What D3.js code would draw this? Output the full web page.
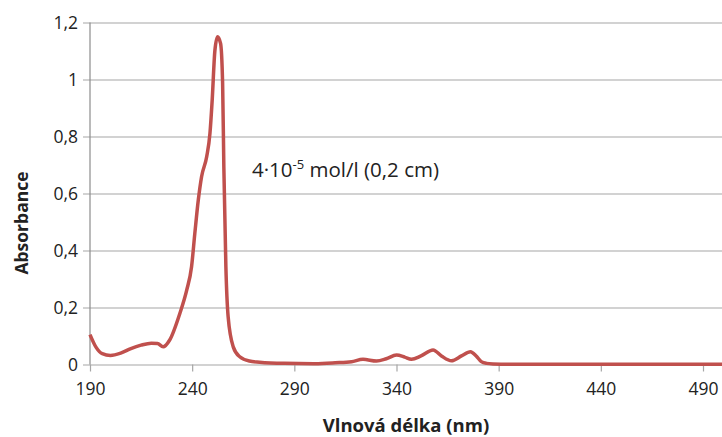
<!DOCTYPE html>
<html>
<head>
<meta charset="utf-8">
<script src="https://cdn.jsdelivr.net/npm/d3@7"></script>
<style>
  html, body { margin: 0; padding: 0; background: #fff; }
  svg { display: block; }
  text { font-family: "Open Sans", "Liberation Sans", sans-serif; fill: #222; }
</style>
</head>
<body>
<svg id="chart" width="722" height="437"></svg>
<script>
// UV absorption spectrum
const wavelengths = [190, 193, 196, 200, 205, 210, 215, 220, 223, 225.8, 229, 234, 237.3, 239.7, 241.3, 243, 244.6, 247.1, 248.7, 249.8, 251.1, 252.4, 253.9, 254.9, 255.5, 256.5, 257.6, 260.1, 263.3, 268, 273, 285, 300, 310, 318, 323.6, 330.2, 335, 340, 344, 347.3, 352, 357.9, 362, 366.9, 371.8, 376.2, 379, 381.5, 384, 387.2, 395, 420, 460, 500];
const absorbance  = [0.105, 0.06, 0.038, 0.032, 0.04, 0.056, 0.068, 0.075, 0.074, 0.062, 0.086, 0.18, 0.26, 0.343, 0.46, 0.577, 0.659, 0.729, 0.811, 0.928, 1.10, 1.150, 1.127, 0.987, 0.694, 0.343, 0.168, 0.062, 0.027, 0.012, 0.008, 0.004, 0.003, 0.006, 0.01, 0.018, 0.012, 0.02, 0.033, 0.026, 0.018, 0.03, 0.051, 0.03, 0.013, 0.03, 0.045, 0.03, 0.01, 0.004, 0.002, 0.001, 0.001, 0.001, 0.001];
const xTicks = [190, 240, 290, 340, 390, 440, 490];
const yTicks = [0, 0.2, 0.4, 0.6, 0.8, 1, 1.2];

const svg = d3.select("#chart");
const plotLeft = 90, plotTop = 22.5, plotBottom = 364.5, plotRight = 722;

const x = d3.scaleLinear().domain([190, 490]).range([plotLeft, 703]);
const y = d3.scaleLinear().domain([0, 1.2]).range([plotBottom, plotTop]);

const fmt = d => String(+d.toFixed(1)).replace(".", ",");

// horizontal gridlines with outside ticks on the value axis
const gy = svg.append("g").attr("transform", `translate(${plotLeft},0)`)
  .call(d3.axisLeft(y).tickValues(yTicks).tickFormat(fmt)
    .tickSize(-(plotRight - plotLeft)).tickPadding(12));
gy.select(".domain").remove();
gy.selectAll(".tick line").attr("stroke", "#a6a6a6").attr("x1", -7).attr("stroke-width", 1.2);
gy.selectAll(".tick text").attr("font-size", 17.5).attr("fill", "#333");

// vertical axis line
svg.append("line").attr("x1", plotLeft).attr("x2", plotLeft).attr("y1", plotTop).attr("y2", plotBottom)
  .attr("stroke", "#8c8c8c").attr("stroke-width", 1.2);

// category axis
const gx = svg.append("g").attr("transform", `translate(0,${plotBottom})`)
  .call(d3.axisBottom(x).tickValues(xTicks).tickFormat(d3.format("d"))
    .tickSize(7).tickPadding(11));
gx.select(".domain").remove();
gx.selectAll(".tick line").attr("stroke", "#a6a6a6").attr("stroke-width", 1.2);
gx.selectAll(".tick text").attr("font-size", 17.5).attr("fill", "#333");

// spectrum line
const line = d3.line()
  .x((d, i) => x(wavelengths[i]))
  .y(d => y(d))
  .curve(d3.curveMonotoneX);
svg.append("path")
  .datum(absorbance)
  .attr("d", line)
  .attr("fill", "none")
  .attr("stroke", "#c0504d")
  .attr("stroke-width", 3.5)
  .attr("stroke-linejoin", "round");

// annotation
const ann = svg.append("text").attr("x", 252).attr("y", 177).attr("font-size", 20.5).attr("fill", "#111");
ann.append("tspan").text("4·10");
ann.append("tspan").attr("font-size", 13).attr("dy", -8).text("-5");
ann.append("tspan").attr("dy", 8).text(" mol/l (0,2 cm)");

// axis titles
svg.append("text").attr("x", 406).attr("y", 432).attr("text-anchor", "middle")
  .attr("font-size", 18.5).attr("font-weight", "bold").attr("fill", "#111")
  .text("Vlnová délka (nm)");
svg.append("text")
  .attr("transform", `translate(28,223) rotate(-90)`)
  .attr("text-anchor", "middle")
  .attr("font-size", 17.5).attr("font-weight", "bold").attr("fill", "#111")
  .text("Absorbance");
</script>
</body>
</html>
